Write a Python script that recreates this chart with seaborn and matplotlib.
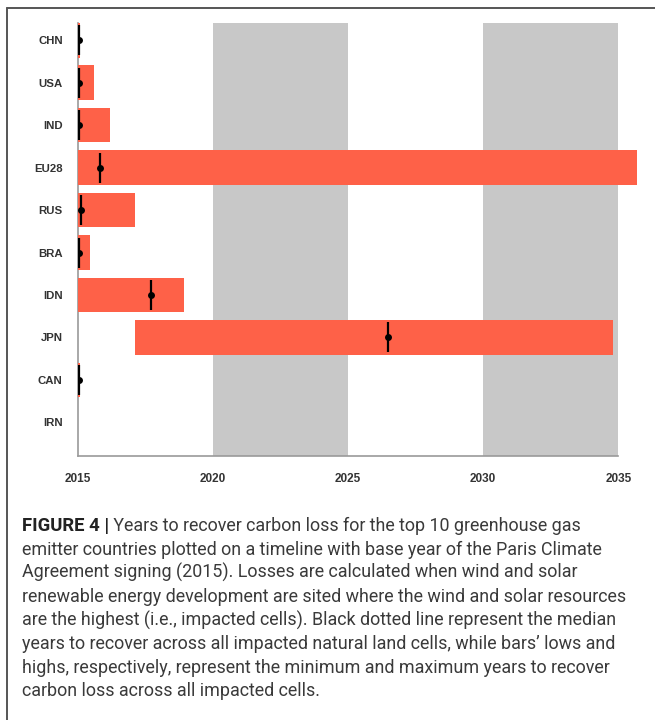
import numpy as np
import pandas as pd
import matplotlib
matplotlib.use("Agg")
import matplotlib.pyplot as plt
from matplotlib import font_manager
from matplotlib.lines import Line2D
import seaborn as sns

# ---------------- data ----------------
countries = ["CHN", "USA", "IND", "EU28", "RUS", "BRA", "IDN", "JPN", "CAN", "IRN"]
low_year = [2015.0, 2015.0, 2015.0, 2015.0, 2015.0, 2015.0, 2015.0, 2017.12, 2015.0, 2015.0]
high_year = [2015.07, 2015.60, 2016.20, 2035.68, 2017.13, 2015.46, 2018.95, 2034.81, 2015.07, 2015.0]
median_year = [2015.04, 2015.04, 2015.05, 2015.84, 2015.12, 2015.05, 2017.73, 2026.48, 2015.04, np.nan]
x_ticks = [2015, 2020, 2025, 2030, 2035]
shaded_periods = [(2020, 2025), (2030, 2035)]

caption_bold = "FIGURE 4 |"
caption_lines = [
    " Years to recover carbon loss for the top 10 greenhouse gas",
    "emitter countries plotted on a timeline with base year of the Paris Climate",
    "Agreement signing (2015). Losses are calculated when wind and solar",
    "renewable energy development are sited where the wind and solar resources",
    "are the highest (i.e., impacted cells). Black dotted line represent the median",
    "years to recover across all impacted natural land cells, while bars\u2019 lows and",
    "highs, respectively, represent the minimum and maximum years to recover",
    "carbon loss across all impacted cells.",
]

df = pd.DataFrame({
    "country": countries,
    "low": low_year,
    "high": high_year,
    "median": median_year,
})
df["span"] = df["high"] - df["low"]

# ---------------- style ----------------
sns.set_theme(style="white")
def has_font(name):
    try:
        font_manager.findfont(name, fallback_to_default=False)
        return True
    except Exception:
        return False

label_font = "Liberation Sans" if has_font("Liberation Sans") else "DejaVu Sans"
cap_font = "Liberation Sans Narrow" if has_font("Liberation Sans Narrow") else (
    "Roboto" if has_font("Roboto") else label_font)
plt.rcParams["font.family"] = [label_font, "DejaVu Sans"]

W, H = 655, 720
fig = plt.figure(figsize=(W / 100, H / 100), dpi=100)
fig.patch.set_facecolor("white")

ax_left_px, ax_right_px, ax_top_px, ax_bottom_px = 77.7, 642.7, 22.7, 456.0
ax = fig.add_axes([ax_left_px / W, 1 - ax_bottom_px / H,
                   (ax_right_px - ax_left_px) / W, (ax_bottom_px - ax_top_px) / H])

bar_color = "#FE6148"
sns.barplot(data=df, x="span", y="country", order=countries, left=df["low"].values,
            color=bar_color, saturation=1, width=0.82, errorbar=None,
            linewidth=0, zorder=2, ax=ax)

# median markers: vertical line + dot
sns.pointplot(data=df, x="median", y="country", order=countries, color="black",
              linestyle="none", marker="|", markersize=21.5, markeredgewidth=1.6,
              errorbar=None, zorder=4, ax=ax)
sns.pointplot(data=df, x="median", y="country", order=countries, color="black",
              linestyle="none", marker="o", markersize=5, markeredgewidth=0,
              errorbar=None, zorder=5, ax=ax)

for a, b in shaded_periods:
    ax.axvspan(a, b, color="#C8C8C8", lw=0, zorder=0)

px_per_year = 27.03
ax.set_xlim(2015, 2015 + (ax_right_px - ax_left_px) / px_per_year)
ax.set_ylim(9.79, -0.41)

ax.set_xlabel("")
ax.set_ylabel("")
ax.set_xticks(x_ticks)
ax.set_xticklabels([str(t) for t in x_ticks])
for side in ["top", "right"]:
    ax.spines[side].set_visible(False)
for side in ["left", "bottom"]:
    ax.spines[side].set_color("#9A9A9A")
    ax.spines[side].set_linewidth(1.2)
ax.spines["bottom"].set_bounds(2015, 2035)
ax.spines["left"].set_zorder(1)
ax.tick_params(axis="x", direction="out", length=5, width=1, color="#8A8A8A",
               pad=7.5, labelsize=8.5, labelcolor="#333333")
ax.tick_params(axis="y", length=0, pad=10.8, labelsize=8.2, labelcolor="#333333")
for lab in ax.get_xticklabels() + ax.get_yticklabels():
    lab.set_fontweight("bold")
ax.set_facecolor("white")
ax.grid(False)

# ---------------- frame ----------------
frame_color = "#555555"
fig.add_artist(Line2D([7 / W, 7 / W], [0, 1 - 8 / H], transform=fig.transFigure,
                      color=frame_color, lw=1.4))
fig.add_artist(Line2D([7 / W, 1], [1 - 8 / H, 1 - 8 / H], transform=fig.transFigure,
                      color=frame_color, lw=1.4))

# ---------------- caption ----------------
cap_family = [cap_font, "DejaVu Sans"]
cap_color = "#3A3A3A"
x0 = 22 / W
base0 = 531
step = 23.6
target_width = 612.0  # width of the longest caption line, in pixels

renderer = fig.canvas.get_renderer()
probe = fig.text(0, 0, caption_lines[3], fontsize=14, family=cap_family)
w_probe = probe.get_window_extent(renderer).width
probe.remove()
cap_size = 14 * target_width / w_probe

t_bold = fig.text(x0, 1 - base0 / H, caption_bold, fontsize=cap_size * 1.03, fontweight="bold",
                  color="#222222", va="baseline", ha="left", family=cap_family)
bw = t_bold.get_window_extent(renderer).width
fig.text((22 + bw) / W, 1 - base0 / H, caption_lines[0], fontsize=cap_size, color=cap_color,
         va="baseline", ha="left", family=cap_family)
for i, line in enumerate(caption_lines[1:], start=1):
    fig.text(x0, 1 - (base0 + i * step) / H, line, fontsize=cap_size, color=cap_color,
             va="baseline", ha="left", family=cap_family)

fig.savefig("out.png", dpi=100, facecolor="white")
